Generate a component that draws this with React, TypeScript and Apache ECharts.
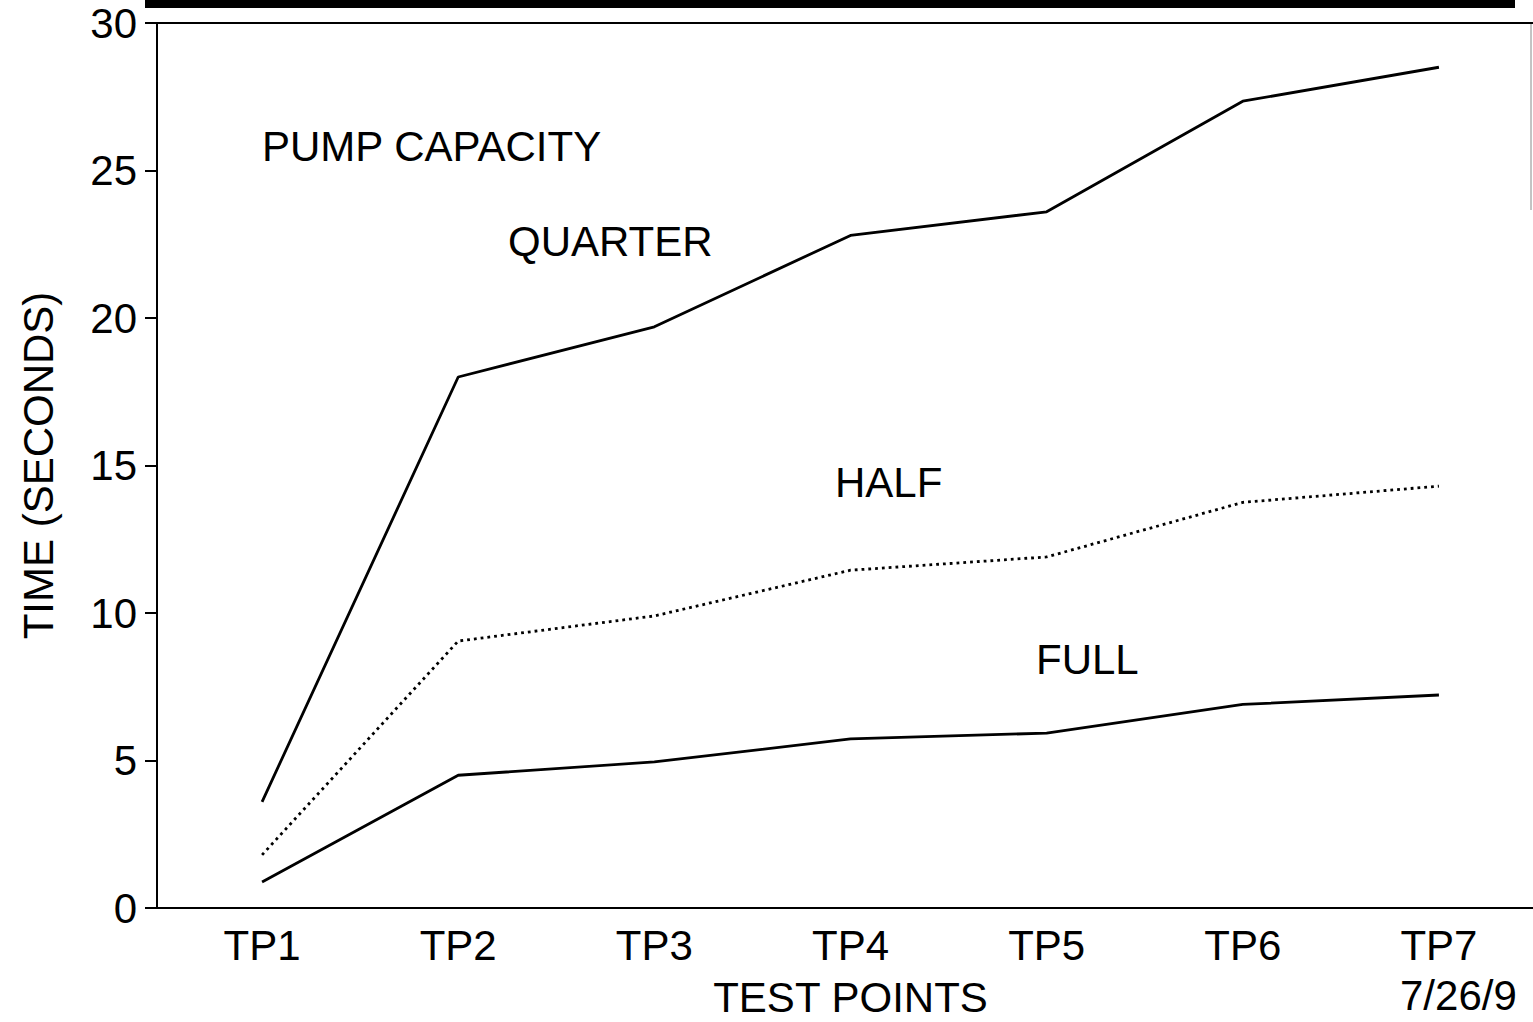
import React, { useEffect, useRef } from "react";
import * as echarts from "echarts";

const categories = ["TP1", "TP2", "TP3", "TP4", "TP5", "TP6", "TP7"];
const quarter = [3.6, 18.0, 19.7, 22.8, 23.6, 27.35, 28.5];
const half = [1.8, 9.05, 9.9, 11.45, 11.9, 13.75, 14.3];
const full = [0.88, 4.5, 4.95, 5.73, 5.93, 6.9, 7.22];
const yTicks = { min: 0, max: 30, interval: 5 };

const FONT = "'Liberation Sans', Arial, Helvetica, sans-serif";

export default function App() {
  const ref = useRef<HTMLDivElement>(null);
  useEffect(() => {
    if (!ref.current) return;
    const chart = echarts.init(ref.current, null, { renderer: "svg" });
    const line = (name: string, data: number[], type: any) => ({
      name,
      type: "line",
      data,
      symbol: "none",
      silent: true,
      lineStyle: { color: "#000", width: 2.8, type },
    });
    const txt = (text: string, x: number, y: number, align = "left") => ({
      type: "text",
      x,
      y,
      silent: true,
      style: {
        text,
        fill: "#000",
        font: `42px ${FONT}`,
        textAlign: align,
        textVerticalAlign: "middle",
      },
    });
    chart.setOption({
      animation: false,
      backgroundColor: "#fff",
      textStyle: { fontFamily: FONT, color: "#000" },
      grid: { left: 164, top: 23, width: 1373, height: 885, containLabel: false, outerBoundsMode: "none" },
      xAxis: {
        type: "category",
        data: categories,
        boundaryGap: true,
        name: "TEST POINTS",
        nameLocation: "middle",
        nameGap: 68,
        nameTextStyle: { fontSize: 42, color: "#000", fontFamily: FONT },
        axisLine: { lineStyle: { color: "#000", width: 2 } },
        axisTick: { alignWithLabel: true, length: 12, lineStyle: { color: "#000", width: 2 } },
        axisLabel: { fontSize: 42, color: "#000", margin: 16, fontFamily: FONT },
        splitLine: { show: false },
      },
      yAxis: {
        type: "value",
        min: yTicks.min,
        max: yTicks.max,
        interval: yTicks.interval,
        offset: 7,
        name: "TIME (SECONDS)",
        nameLocation: "middle",
        nameGap: 98,
        nameTextStyle: { fontSize: 42, color: "#000", fontFamily: FONT },
        axisLine: { show: true, lineStyle: { color: "#000", width: 2 } },
        axisTick: { show: true, length: 12, lineStyle: { color: "#000", width: 2 } },
        axisLabel: { fontSize: 42, color: "#000", margin: 20, fontFamily: FONT },
        splitLine: { show: false },
      },
      series: [
        line("QUARTER", quarter, "solid"),
        line("HALF", half, [2.8, 4]),
        line("FULL", full, "solid"),
      ],
      graphic: [
        { type: "rect", shape: { x: 145, y: 0, width: 1370, height: 8 }, style: { fill: "#000" }, silent: true },
        { type: "line", shape: { x1: 145, y1: 23, x2: 1533, y2: 23 }, style: { stroke: "#000", lineWidth: 2 }, silent: true },
        { type: "line", shape: { x1: 148, y1: 908, x2: 166, y2: 908 }, style: { stroke: "#000", lineWidth: 2 }, silent: true },
        { type: "line", shape: { x1: 1531, y1: 24, x2: 1531, y2: 210 }, style: { stroke: "#888", lineWidth: 1 }, silent: true },
        txt("PUMP CAPACITY", 262, 146),
        txt("QUARTER", 508, 241),
        txt("HALF", 835, 482),
        txt("FULL", 1036, 659),
        txt("7/26/9", 1400, 995),
      ],
    });
    return () => chart.dispose();
  }, []);
  return (
    <div
      ref={ref}
      style={{ position: "fixed", left: 0, top: 0, width: 1533, height: 1022, background: "#fff" }}
    />
  );
}
